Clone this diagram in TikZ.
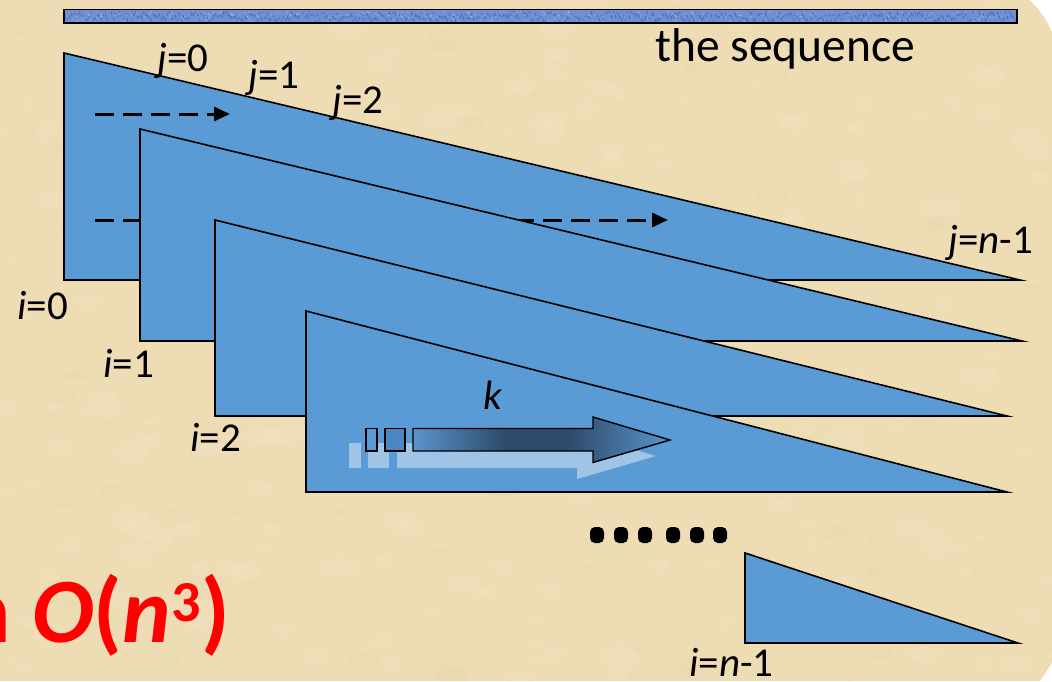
\documentclass[tikz,border=0pt]{standalone}
\usepackage{fontspec}
\setmainfont{Carlito}
\usetikzlibrary{arrows.meta}
\definecolor{parch}{HTML}{EEDCB5}
\definecolor{parchdark}{HTML}{DCC394}
\definecolor{parchlight}{HTML}{F7ECD2}
\definecolor{triblue}{HTML}{5B9BD5}
\definecolor{barblue}{HTML}{6F8FD2}
\definecolor{bardark}{HTML}{34539E}
\definecolor{barlight}{HTML}{B3C6EC}
\definecolor{ka}{HTML}{5A94CC}
\definecolor{kb}{HTML}{2D4A6B}
\definecolor{rectb}{HTML}{4B87C2}
\pgfdeclarehorizontalshading{karrow}{100bp}{color(0bp)=(ka); color(25bp)=(ka); color(43bp)=(kb); color(55bp)=(kb); color(75bp)=(ka); color(100bp)=(ka)}
\tikzset{
  tri/.style={fill=triblue, draw=black, line width=1.6pt, line join=miter},
  lbl/.style={font=\fontsize{41}{43}\selectfont, inner sep=0pt, anchor=base west, text=black},
  dasharrow/.style={draw=black, line width=3pt, dash pattern=on 19pt off 9pt, -{Triangle[length=16pt,width=14pt]}},
  shadowshape/.style={fill=white, fill opacity=0.42, draw=none},
  karrowstyle/.style={shading=karrow, draw=black, line width=1.4pt},
  smallbox/.style={draw=black, line width=1.4pt},
  dotmark/.style={fill=black, rounded corners=5pt}
}
\begin{document}
\begin{tikzpicture}[x=1pt,y=-1pt]
\useasboundingbox (0,0) rectangle (1052,681);
% background
\fill[parch] (0,0) rectangle (1052,681);
\pgfmathsetseed{7}
\foreach \i in {1,...,420}{
  \pgfmathsetmacro{\px}{1052*rnd}
  \pgfmathsetmacro{\py}{681*rnd}
  \pgfmathsetmacro{\rr}{4+14*rnd}
  \pgfmathsetmacro{\cc}{rnd}
  \ifdim\cc pt<0.5pt
    \fill[parchdark, opacity=0.07] (\px,\py) ellipse ({\rr pt} and {0.5*\rr pt});
  \else
    \fill[parchlight, opacity=0.14] (\px,\py) ellipse ({\rr pt} and {0.5*\rr pt});
  \fi
}
% the sequence bar
\fill[barblue] (64,9.5) rectangle (1017,23);
\foreach \i in {0,...,475}{
  \pgfmathsetmacro{\xx}{65+2*\i}
  \pgfmathsetmacro{\ya}{11+9*rnd}
  \pgfmathsetmacro{\yb}{\ya+1+3*rnd}
  \draw[bardark, line width=0.9pt, opacity=0.6] (\xx,\ya) -- (\xx+1,\yb);
}
\foreach \i in {0,...,300}{
  \pgfmathsetmacro{\xx}{65+950*rnd}
  \pgfmathsetmacro{\ya}{11+10*rnd}
  \draw[barlight, line width=0.8pt, opacity=0.6] (\xx,\ya) -- (\xx+1.5,\ya+1);
}
\draw[black, line width=1.4pt] (64,9.5) rectangle (1017,23);
\node[inner sep=0pt, anchor=base west, font=\fontsize{47.5}{50}\selectfont] (seq) at (655,61.5) {the sequence};
% triangle i=0
\path[tri] (64,53) -- (64,280) -- (1020,280) -- cycle;
\coordinate (a1s) at (95,114);
\coordinate (a1e) at (230,114);
\coordinate (a2s) at (95,220);
\coordinate (a2e) at (668,220);
\draw[dasharrow] (a1s) -- (a1e);
\draw[dasharrow] (a2s) -- (a2e);
% triangles i=1, i=2, i=3
\path[tri] (140,129) -- (140,341) -- (1022,341) -- cycle;
\path[tri] (215,220) -- (215,416) -- (1007,416) -- cycle;
\path[tri] (306,311) -- (306,492) -- (1007,492) -- cycle;
% k arrow reflection
\path[shadowshape] (349,443) rectangle (361,468);
\path[shadowshape] (368,443) rectangle (389,468);
\path[shadowshape] (397,443) -- (577,443) -- (577,433) -- (656,456) -- (577,479) -- (577,468) -- (397,468) -- cycle;
% k arrow
\path[smallbox, fill=triblue] (366,428.5) rectangle (377,451);
\path[smallbox, fill=rectb] (385,428.5) rectangle (405,451);
\path[karrowstyle] (413,428.5) -- (593,428.5) -- (593,417) -- (670,440) -- (593,462.5) -- (593,451) -- (413,451) -- cycle;
\node[lbl] (klab) at (483,409) {\textit{k}};
% dots
\foreach \x in {597,621,645,673,697,720}{
  \path[dotmark] (\x-7,527) rectangle (\x+7,543);
}
% last triangle
\path[tri] (745,553) -- (745,643) -- (1018,643) -- cycle;
% labels
\node[lbl] (j0) at (157,71) {\textit{j}=0};
\node[lbl] (j1) at (248,88) {\textit{j}=1};
\node[lbl] (j2) at (332,113) {\textit{j}=2};
\node[lbl] (jn) at (948,253) {\textit{j}=\textit{n}-1};
\node[lbl] (i0) at (17,319) {\textit{i}=0};
\node[lbl] (i1) at (103,377) {\textit{i}=1};
\node[lbl] (i2) at (190,451) {\textit{i}=2};
\node[lbl, text depth=0pt] (in) at (689,676) {\textit{i}=\textit{n}-1};
% complexity
\node[inner sep=0pt, anchor=base east, text=red, font=\fontsize{92}{94}\selectfont\bfseries] (cplx) at (230,642) {n \textit{O}(\textit{n}\kern1pt{\fontsize{58}{58}\selectfont\raisebox{21pt}{3}})};
% white frame corners
\fill[white] (1030,0) .. controls (1040,10) and (1047,20) .. (1052,32) -- (1052,0) -- cycle;
\fill[white] (1040,681) .. controls (1045,674) and (1049,668) .. (1052,663) -- (1052,681) -- cycle;
\end{tikzpicture}
\end{document}
